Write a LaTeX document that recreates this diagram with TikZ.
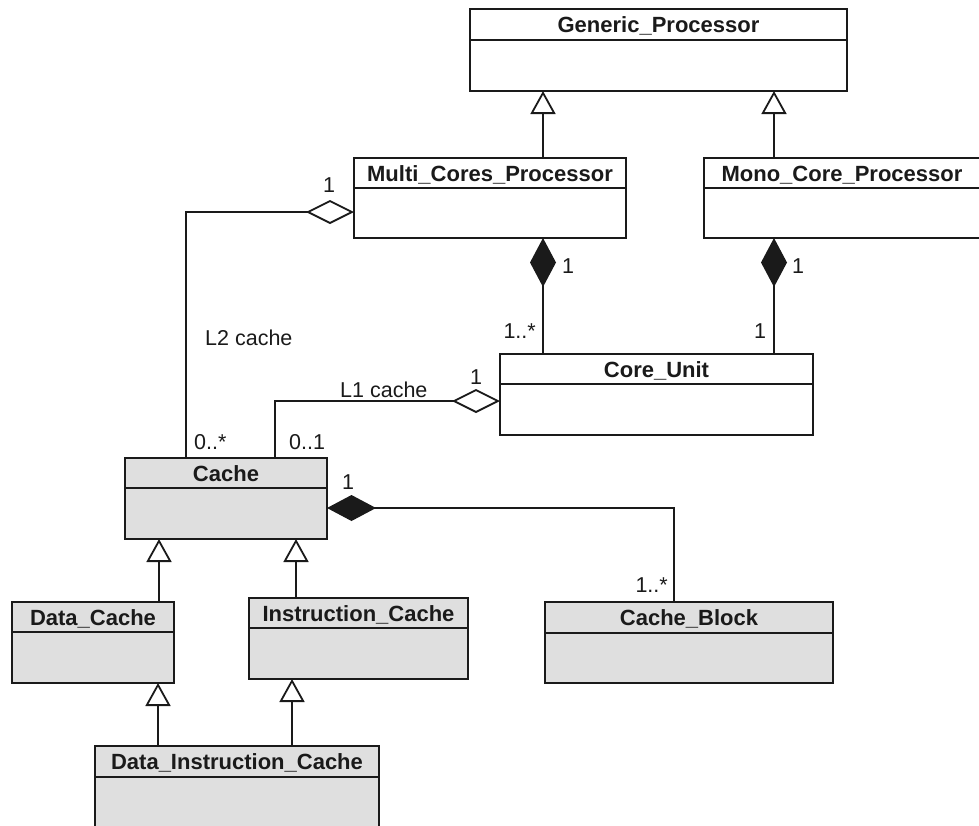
\documentclass[tikz,border=0pt]{standalone}
\usepackage{fontspec}
\setmainfont{Liberation Sans}
\usetikzlibrary{arrows.meta}
\definecolor{cachegray}{HTML}{DFDFDF}
\definecolor{inkc}{HTML}{1A1A1A}
\tikzset{
  clsbox/.style={draw=inkc, line width=2pt, inner sep=0pt, outer sep=0pt},
  clsline/.style={draw=inkc, line width=2pt},
  clstitle/.style={font=\fontsize{22}{26}\selectfont\bfseries, inner sep=0pt, anchor=base, text=inkc},
  mult/.style={font=\fontsize{21.5}{26}\selectfont, inner sep=0pt, text=inkc},
  conn/.style={draw=inkc, line width=1.8pt},
  genarrow/.style={conn, -{Triangle[fill=white, length=23pt, width=25pt]}},
  comparrow/.style={conn, {Diamond[length=49pt, width=26pt]}-},
  aggrarrow/.style={conn, {Diamond[fill=white, length=48pt, width=24pt]}-}
}
\newcommand{\umlclass}[8]{%
  \node[clsbox, fill=#7, minimum width=#4pt, minimum height=#5pt, anchor=north west] (#1) at (#2,#3) {};
  \draw[clsline] ([yshift=-#6pt]#1.north west) -- ([yshift=-#6pt]#1.north east);
  \node[clstitle] (#1-t) at ([yshift=-(#6/2+8)*1pt]#1.north) {#8};
}
\begin{document}
\begin{tikzpicture}[x=1pt, y=-1pt]
\clip (0,0) rectangle (979,825);
\fill[white] (0,0) rectangle (979,825);

\umlclass{gen}{470}{9}{377}{82}{31}{white}{Generic\_Processor}
\umlclass{mcp}{354}{158}{272}{80}{30}{white}{Multi\_Cores\_Processor}
\umlclass{mono}{704}{158}{276}{80}{30}{white}{Mono\_Core\_Processor}
\umlclass{core}{500}{354}{313}{81}{30}{white}{Core\_Unit}
\umlclass{cache}{125}{458}{202}{81}{30}{cachegray}{Cache}
\umlclass{dc}{12}{602}{162}{81}{30}{cachegray}{Data\_Cache}
\umlclass{ic}{249}{598}{219}{81}{30}{cachegray}{Instruction\_Cache}
\umlclass{cb}{545}{602}{288}{81}{31}{cachegray}{Cache\_Block}
\umlclass{dic}{95}{746}{284}{110}{31}{cachegray}{Data\_Instruction\_Cache}

% generalizations
\draw[genarrow] ([xshift=189pt]mcp.north west) -- ([xshift=73pt]gen.south west);
\draw[genarrow] ([xshift=70pt]mono.north west) -- ([xshift=304pt]gen.south west);
\draw[genarrow] ([xshift=147pt]dc.north west) -- ([xshift=34pt]cache.south west);
\draw[genarrow] ([xshift=47pt]ic.north west) -- ([xshift=171pt]cache.south west);
\draw[genarrow] ([xshift=63pt]dic.north west) -- ([xshift=146pt]dc.south west);
\draw[genarrow] ([xshift=197pt]dic.north west) -- ([xshift=43pt]ic.south west);

% compositions
\draw[comparrow] ([xshift=189pt]mcp.south west) -- ([xshift=43pt]core.north west);
\draw[comparrow] ([xshift=70pt]mono.south west) -- ([xshift=274pt]core.north west);
\draw[comparrow] ([yshift=-50pt]cache.north east) -| ([xshift=129pt]cb.north west);

% aggregations
\draw[aggrarrow] ([yshift=-54pt]mcp.north west) -| ([xshift=61pt]cache.north west);
\draw[aggrarrow] ([yshift=-47pt]core.north west) -| ([xshift=150pt]cache.north west);

% labels
\node[mult, anchor=base] (m1) at (568,273) {1};
\node[mult, anchor=base] (m2) at (798,273) {1};
\node[mult, anchor=base east] (m3) at (536,338) {1..*};
\node[mult, anchor=base] (m4) at (760,338) {1};
\node[mult, anchor=base] (m5) at (329,192) {1};
\node[mult, anchor=base west] (m6) at (205,345) {L2 cache};
\node[mult, anchor=base west] (m7) at (340,397) {L1 cache};
\node[mult, anchor=base] (m8) at (476,384) {1};
\node[mult, anchor=base west] (m9) at (194,449) {0..*};
\node[mult, anchor=base west] (m10) at (289,449) {0..1};
\node[mult, anchor=base] (m11) at (348,489) {1};
\node[mult, anchor=base east] (m12) at (668,592) {1..*};
\end{tikzpicture}
\end{document}
